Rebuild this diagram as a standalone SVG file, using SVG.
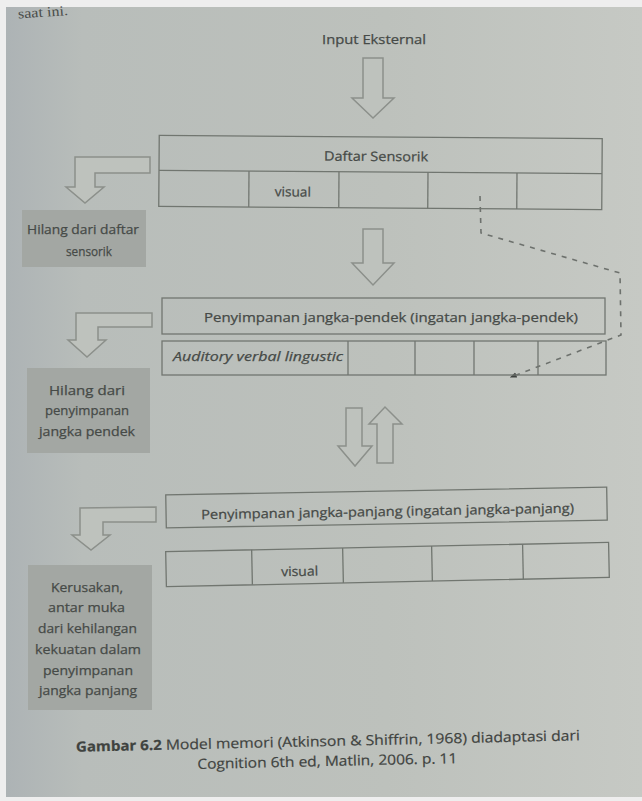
<svg xmlns="http://www.w3.org/2000/svg" width="642" height="801" viewBox="0 0 642 801">
<defs>
<linearGradient id="page" x1="0" y1="0" x2="1" y2="0">
<stop offset="0" stop-color="#adb3b5"/>
<stop offset="0.12" stop-color="#b8bdba"/>
<stop offset="0.6" stop-color="#bdc1bc"/>
<stop offset="1" stop-color="#c6c9c4"/>
</linearGradient>
<marker id="ah" viewBox="0 0 10 10" refX="8" refY="5" markerWidth="7" markerHeight="7" orient="auto" markerUnits="userSpaceOnUse">
<path d="M0,1 L10,5 L0,9 Z" fill="#3e423f"/>
</marker>
</defs>
<style>
.box{fill:none;stroke:#717670;stroke-width:1.3}
.cell{stroke:#717670;stroke-width:1.3}
.gray{fill:#a3a7a3}
.arr{fill:#bec2bd;stroke:#8c908b;stroke-width:1.5;stroke-linejoin:miter}
.t{font-family:"Open Sans","DejaVu Sans",sans-serif;font-size:13px;fill:#464a47;stroke:#464a47;stroke-width:0.25}
.i{font-style:italic}
.cap{font-family:"Open Sans","DejaVu Sans",sans-serif;font-size:14px;fill:#3f4340;stroke:#3f4340;stroke-width:0.2}
.dash{fill:none;stroke:#6d716d;stroke-width:1.6;stroke-dasharray:5 6}
</style>
<rect x="0" y="0" width="642" height="801" fill="#eeeeee"/>
<rect x="6" y="7" width="636" height="790" fill="url(#page)"/>
<text x="18" y="17" transform="rotate(-4 40 14)" font-family="Liberation Serif,serif" font-size="14" fill="#4a4d4a" textLength="50" lengthAdjust="spacingAndGlyphs">saat ini.</text>

<g id="input">
<text class="t" x="322" y="44" textLength="104" lengthAdjust="spacingAndGlyphs">Input Eksternal</text>
</g>

<g id="connectors">
<polygon class="arr" points="363,58 383,58 383,98 394,98 373,118 352,98 363,98"/>
<polygon class="arr" points="363,229 383,229 383,263 394,263 373,285 352,263 363,263"/>
<polygon class="arr" points="346,408 362,408 362,446 372,446 355,466 338,446 346,446"/>
<polygon class="arr" points="377,463 393,463 393,424 402,424 385,407 369,424 377,424"/>
<polygon class="arr" points="150,157 75,157 75,187 66,187 85,203 104,187 95,187 95,173 150,173"/>
<polygon class="arr" points="152,313 76,313 76,340 68,340 87,357 106,340 98,340 98,327 152,327"/>
<polygon class="arr" points="156,507 80,508 80,535 72,535 91,550 110,535 103,535 103,522 156,522" />
<polyline class="dash" points="480,196 481,233 620,273 621,335 511,377" marker-end="url(#ah)"/>
</g>

<g id="daftar-sensorik" transform="rotate(0.4 380 172)">
<rect class="box" x="159" y="137" width="443" height="71"/>
<line class="cell" x1="159" y1="172" x2="602" y2="172"/>
<line class="cell" x1="249" y1="172" x2="249" y2="208"/>
<line class="cell" x1="339" y1="172" x2="339" y2="208"/>
<line class="cell" x1="428" y1="172" x2="428" y2="208"/>
<line class="cell" x1="517" y1="172" x2="517" y2="208"/>
<text class="t" x="324" y="161" textLength="104" lengthAdjust="spacingAndGlyphs">Daftar Sensorik</text>
<text class="t" x="275" y="197" textLength="36" lengthAdjust="spacingAndGlyphs">visual</text>
</g>

<g id="hilang-sensorik">
<rect class="gray" x="22" y="210" width="124" height="57"/>
<text class="t" x="27" y="234" textLength="112" lengthAdjust="spacingAndGlyphs">Hilang dari daftar</text>
<text class="t" x="66" y="256" textLength="46" lengthAdjust="spacingAndGlyphs">sensorik</text>
</g>

<g id="jangka-pendek">
<rect class="box" x="162" y="298" width="443" height="36"/>
<text class="t" x="204" y="322" textLength="374" lengthAdjust="spacingAndGlyphs">Penyimpanan jangka-pendek (ingatan jangka-pendek)</text>
<rect class="box" x="162" y="341" width="444" height="34"/>
<line class="cell" x1="348" y1="341" x2="348" y2="375"/>
<line class="cell" x1="415" y1="341" x2="415" y2="375"/>
<line class="cell" x1="474" y1="341" x2="474" y2="375"/>
<line class="cell" x1="538" y1="341" x2="538" y2="375"/>
<text class="t i" x="173" y="361" textLength="170" lengthAdjust="spacingAndGlyphs">Auditory verbal lingustic</text>
</g>

<g id="hilang-pendek">
<rect class="gray" x="27" y="368" width="123" height="85"/>
<text class="t" x="49" y="395" textLength="76" lengthAdjust="spacingAndGlyphs">Hilang dari</text>
<text class="t" x="45" y="415" textLength="84" lengthAdjust="spacingAndGlyphs">penyimpanan</text>
<text class="t" x="39" y="436" textLength="96" lengthAdjust="spacingAndGlyphs">jangka pendek</text>
</g>

<g id="jangka-panjang">
<g transform="rotate(-1.0 386 508)">
<rect class="box" x="166" y="491" width="441" height="33"/>
<text class="t" x="201" y="516" textLength="373" lengthAdjust="spacingAndGlyphs">Penyimpanan jangka-panjang (ingatan jangka-panjang)</text>
</g>
<g transform="rotate(-1.2 388 565)">
<rect class="box" x="166" y="547" width="443" height="35"/>
<line class="cell" x1="252" y1="547" x2="252" y2="582"/>
<line class="cell" x1="343" y1="547" x2="343" y2="582"/>
<line class="cell" x1="432" y1="547" x2="432" y2="582"/>
<line class="cell" x1="523" y1="547" x2="523" y2="582"/>
<text class="t" x="281" y="574" textLength="37" lengthAdjust="spacingAndGlyphs">visual</text>
</g>
</g>

<g id="kerusakan">
<rect class="gray" x="28" y="565" width="124" height="145"/>
<text class="t" x="51" y="592" textLength="72" lengthAdjust="spacingAndGlyphs">Kerusakan,</text>
<text class="t" x="48" y="612" textLength="77" lengthAdjust="spacingAndGlyphs">antar muka</text>
<text class="t" x="38" y="633" textLength="99" lengthAdjust="spacingAndGlyphs">dari kehilangan</text>
<text class="t" x="35" y="654" textLength="106" lengthAdjust="spacingAndGlyphs">kekuatan dalam</text>
<text class="t" x="43" y="675" textLength="90" lengthAdjust="spacingAndGlyphs">penyimpanan</text>
<text class="t" x="39" y="695" textLength="98" lengthAdjust="spacingAndGlyphs">jangka panjang</text>
</g>

<g id="caption" transform="rotate(-1.3 328 750)">
<text class="cap" y="746"><tspan x="76" font-weight="bold" textLength="86" lengthAdjust="spacingAndGlyphs">Gambar 6.2</tspan><tspan x="166" textLength="414" lengthAdjust="spacingAndGlyphs">Model memori (Atkinson &amp; Shiffrin, 1968) diadaptasi dari</tspan></text>
<text class="cap" x="197" y="766" textLength="260" lengthAdjust="spacingAndGlyphs">Cognition 6th ed, Matlin, 2006. p. 11</text>
</g>
</svg>
